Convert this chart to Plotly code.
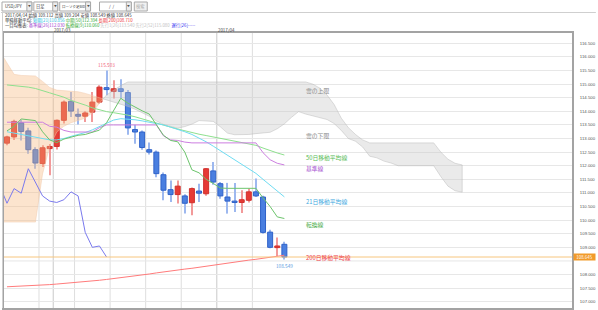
import plotly.graph_objects as go
import pandas as pd

# ---------------- data ----------------
dates = ["2017-02-20","2017-02-21","2017-02-22","2017-02-23","2017-02-24",
         "2017-02-27","2017-02-28","2017-03-01","2017-03-02","2017-03-03",
         "2017-03-06","2017-03-07","2017-03-08","2017-03-09","2017-03-10",
         "2017-03-13","2017-03-14","2017-03-15","2017-03-16","2017-03-17",
         "2017-03-20","2017-03-21","2017-03-22","2017-03-23","2017-03-24",
         "2017-03-27","2017-03-28","2017-03-29","2017-03-30","2017-03-31",
         "2017-04-03","2017-04-04","2017-04-05","2017-04-06","2017-04-07",
         "2017-04-10","2017-04-11","2017-04-12","2017-04-13","2017-04-14"]
opens = [112.83,113.06,113.58,113.28,112.59,112.08,112.63,112.71,113.67,114.37,
         113.89,113.82,113.97,114.34,114.87,114.73,114.83,114.69,113.33,113.24,
         112.59,112.50,111.67,111.12,110.94,110.89,110.64,111.07,110.97,111.81,
         111.34,110.85,110.70,110.65,110.73,111.04,110.85,109.56,108.99,109.112]
highs = [113.10,113.69,113.70,113.40,112.68,112.75,112.80,113.70,114.40,114.71,
         114.10,114.00,114.71,114.96,115.503,115.14,115.18,114.78,113.51,113.30,
         112.85,112.56,111.75,111.46,111.46,110.95,111.20,111.34,111.92,112.14,
         111.40,111.37,111.37,111.10,111.16,111.53,110.90,109.65,109.36,109.204]
lows = [112.75,112.95,112.93,112.44,111.89,111.95,111.65,112.60,113.55,113.79,
        113.52,113.61,113.61,114.28,114.59,114.47,114.47,113.14,112.81,112.59,
        112.41,111.58,110.73,110.67,110.61,110.24,110.18,110.67,110.90,111.30,
        110.79,110.24,110.30,110.26,110.65,110.85,109.50,108.97,108.67,108.549]
closes = [113.06,113.63,113.26,112.59,112.10,112.66,112.71,113.67,114.34,114.01,
          113.82,113.94,114.34,114.89,114.80,114.83,114.73,113.39,113.24,112.67,
          112.50,111.71,111.10,110.94,111.25,110.62,111.16,110.99,111.89,111.40,
          110.89,110.70,110.65,110.75,111.04,110.89,109.55,109.00,109.05,108.645]

ma21 = [113.25,113.20,113.15,113.10,113.05,113.00,112.95,112.95,113.00,113.08,
        113.15,113.22,113.32,113.45,113.58,113.68,113.73,113.72,113.69,113.65,
        113.60,113.55,113.50,113.42,113.34,113.25,113.15,113.03,112.88,112.72,
        112.55,112.38,112.22,112.06,111.90,111.72,111.50,111.28,111.07,110.856]
ma50 = [114.97,114.95,114.92,114.89,114.84,114.77,114.68,114.60,114.52,114.40,
        114.32,114.23,114.13,114.05,113.99,113.95,113.91,113.86,113.80,113.72,
        113.64,113.57,113.50,113.42,113.35,113.28,113.22,113.16,113.11,113.06,
        113.01,112.96,112.91,112.86,112.80,112.75,112.65,112.55,112.47,112.394]
ma200 = [107.55,107.56,107.57,107.59,107.60,107.62,107.63,107.65,107.67,107.69,
         107.71,107.73,107.76,107.79,107.82,107.85,107.88,107.91,107.95,107.98,
         108.02,108.06,108.10,108.13,108.17,108.20,108.23,108.27,108.30,108.34,
         108.38,108.41,108.45,108.49,108.53,108.56,108.60,108.64,108.67,108.71]
tenkan = [113.28,113.45,113.72,113.70,113.66,113.25,112.95,112.85,112.98,113.05,
          113.12,113.15,113.22,113.31,113.58,114.05,114.48,114.30,114.15,114.02,
          113.90,113.52,113.12,112.93,112.88,112.50,111.85,111.74,111.50,111.35,
          111.18,111.17,111.17,111.17,111.17,111.17,110.82,110.50,110.12,110.06]
kijun = [113.60,113.60,113.60,113.60,113.60,113.60,113.45,113.42,113.30,113.24,
         113.24,113.24,113.24,113.40,113.50,113.50,113.50,113.50,113.50,113.50,
         113.50,113.50,113.10,112.95,112.93,112.87,112.84,112.84,112.84,112.84,
         112.84,112.84,112.84,112.84,112.84,112.84,112.48,112.22,112.09,112.03]

# leading spans, plotted from slot -1 to slot 64 (26 days ahead)
span_a = [116.20,115.80,115.36,115.32,115.32,115.30,115.10,114.88,114.78,114.76,
          114.74,114.72,114.66,114.58,114.50,114.42,114.35,114.25,114.18,114.08,
          113.95,113.82,113.65,113.52,113.45,113.38,113.44,113.53,113.66,113.65,
          113.63,113.43,113.20,113.14,113.14,113.15,113.18,113.20,113.23,113.36,
          113.54,113.78,113.99,113.90,113.83,113.76,113.70,113.55,113.30,113.00,
          112.90,112.69,112.35,112.29,112.17,112.10,112.00,112.00,112.00,112.00,
          112.00,112.00,111.60,111.25,111.08,111.03]
span_b = [109.93,109.93,109.93,109.93,109.93,109.93,111.70,112.70,113.24,113.45,
          113.58,113.67,113.75,113.95,114.30,114.60,114.78,114.95,115.08,115.08,
          115.08,115.08,115.08,115.08,115.08,115.08,115.08,115.08,115.08,115.08,
          115.08,115.08,115.08,115.08,115.08,115.08,115.08,115.08,115.08,115.08,
          115.08,115.08,115.08,115.08,115.00,114.85,114.60,114.25,113.75,113.40,
          113.15,112.95,112.84,112.84,112.84,112.84,112.84,112.84,112.84,112.84,
          112.84,112.84,112.50,112.24,112.09,112.03]

# ---------------- derived ----------------
n = len(dates)
idx = list(range(n))
span_x = list(range(-1, len(span_a) - 1))
lag = 25
chikou_x = [i - lag for i in idx if i - lag >= -1]
chikou_y = [closes[i] for i in idx if i - lag >= -1]

up = [c >= o for o, c in zip(opens, closes)]
dn = [not u for u in up]
body_base = [min(o, c) for o, c in zip(opens, closes)]
body_h = [abs(c - o) for o, c in zip(opens, closes)]
wick_h = [h - l for h, l in zip(highs, lows)]

def sel(arr, mask):
    return [a for a, m in zip(arr, mask) if m]

fig = go.Figure()
# wicks
fig.add_trace(go.Bar(x=sel(idx, up), base=sel(lows, up), y=sel(wick_h, up), width=0.15,
                     marker=dict(color="#f29a9a", line=dict(width=0)), hoverinfo="skip"))
fig.add_trace(go.Bar(x=sel(idx, dn), base=sel(lows, dn), y=sel(wick_h, dn), width=0.15,
                     marker=dict(color="#9db8ef", line=dict(width=0)), hoverinfo="skip"))
# bodies
fig.add_trace(go.Bar(x=sel(idx, up), base=sel(body_base, up), y=sel(body_h, up), width=0.7,
                     marker=dict(color="#e63b36", line=dict(color="#d0302c", width=1))))
fig.add_trace(go.Bar(x=sel(idx, dn), base=sel(body_base, dn), y=sel(body_h, dn), width=0.7,
                     marker=dict(color="#4a7fe0", line=dict(color="#2f62c8", width=1))))

# cloud split into bullish/bearish polygons
polys = []
cx, ca, cb = [span_x[0]], [span_a[0]], [span_b[0]]
sign = span_a[0] >= span_b[0]
for i in range(1, len(span_x)):
    s = span_a[i] >= span_b[i]
    if s != sign:
        d0 = span_a[i-1] - span_b[i-1]
        d1 = span_a[i] - span_b[i]
        t = d0 / (d0 - d1)
        xc = span_x[i-1] + t * (span_x[i] - span_x[i-1])
        yc = span_a[i-1] + t * (span_a[i] - span_a[i-1])
        cx.append(xc); ca.append(yc); cb.append(yc)
        polys.append((sign, cx, ca, cb))
        cx, ca, cb = [xc], [yc], [yc]
        sign = s
    cx.append(span_x[i]); ca.append(span_a[i]); cb.append(span_b[i])
polys.append((sign, cx, ca, cb))
for bull, px, pa, pb in polys:
    fig.add_trace(go.Scatter(
        x=px + px[::-1], y=pa + pb[::-1], mode="lines", fill="toself",
        fillcolor="rgba(247,183,125,0.38)" if bull else "rgba(200,200,200,0.38)",
        line=dict(color="rgba(240,200,170,0.6)" if bull else "rgba(180,180,180,0.55)", width=0.8),
        hoverinfo="skip"))

def line(x, y, color, w=1):
    fig.add_trace(go.Scatter(x=x, y=y, mode="lines", line=dict(color=color, width=w),
                             hoverinfo="skip"))

line(idx, ma200, "#ff7b7b")
line(idx, ma50, "#8ee08e")
line(idx, ma21, "#6fdcf2")
line(idx, kijun, "#cc7ee0")
line(idx, tenkan, "#6cc46c")
line(chikou_x, chikou_y, "#7a7aee")

# ---------------- layout helpers (pixel -> paper) ----------------
L, R, T, B, W, H = 3, 24, 33, 2, 598, 310
PW, PH = W - L - R, H - T - B
def X(px): return (px - L) / PW
def Y(py): return (H - B - py) / PH

shapes = []
annotations = []

# vertical grid lines at week / month boundaries
d = pd.to_datetime(dates)
for i in range(1, n):
    new_month = d[i].month != d[i-1].month
    new_week = d[i].weekday() < d[i-1].weekday()
    if new_month or new_week:
        shapes.append(dict(type="line", xref="x", yref="paper", x0=i-0.5, x1=i-0.5, y0=0, y1=1,
                           line=dict(color="#c9c9c9" if new_month else "#dedede", width=1),
                           layer="below"))
    if new_month:
        annotations.append(dict(xref="x", yref="paper", x=i-0.5, y=Y(30.2), xanchor="left",
                                yanchor="middle", text=d[i].strftime("%Y/%m"), showarrow=False,
                                font=dict(size=4.4, color="#444"), borderpad=0))

last = closes[-1]
# current price line + tag
shapes.append(dict(type="line", xref="paper", yref="y", x0=0, x1=1, y0=last, y1=last,
                   line=dict(color="#f7c67e", width=1)))
annotations.append(dict(xref="paper", yref="y", x=1, y=last, xanchor="left", yanchor="middle",
                        xshift=1, text=f"{last:.3f}", showarrow=False, bgcolor="#f29b2b",
                        font=dict(size=4.4, color="white"), width=21, height=6, borderpad=0))

# y tick labels (the one hidden under the price tag is left out, as in the source)
y_lo, y_hi = 106.77, 116.88
grid_vals = [107.0 + 0.5 * k for k in range(20)]
label_vals = [v for v in grid_vals if abs(v - last) > 0.2]

# high / low marks
hi_i = max(idx, key=lambda i: highs[i])
annotations.append(dict(x=hi_i, y=highs[hi_i], text=f"{highs[hi_i]:.3f}", showarrow=False,
                        yanchor="bottom", yshift=0, font=dict(size=4.7, color="#f0607a")))
lo_i = min(idx, key=lambda i: lows[i])
annotations.append(dict(x=lo_i, y=lows[lo_i], text=f"{lows[lo_i]:.3f}", showarrow=False,
                        yanchor="top", yshift=-1, font=dict(size=4.7, color="#5a9be0")))

# line labels right of the last candle
lab_x = n - 1 + 2.95
for txt_, py, col in [("雲の上限", 90, "#8a8a8a"), ("雲の下限", 135, "#8a8a8a"),
                      ("50日移動平均線", 157.3, "#55bb55"), ("基準線", 168.3, "#a64fd0"),
                      ("21日移動平均線", 201.7, "#3aa8e0"), ("転換線", 224, "#44aa44"),
                      ("200日移動平均線", 257.3, "#ee3a48")]:
    annotations.append(dict(xref="x", yref="paper", x=lab_x, y=Y(py), xanchor="left",
                            yanchor="middle", text=txt_, showarrow=False,
                            font=dict(size=5.8, color=col), borderpad=0))

# header controls
def box(x0, x1, fill="white"):
    shapes.append(dict(type="rect", xref="paper", yref="paper", x0=X(x0), x1=X(x1),
                       y0=Y(11), y1=Y(2), line=dict(color="#a9a9a9", width=1), fillcolor=fill))
def txt(px, py, s, size=4.3, color="#333", anchor="left"):
    annotations.append(dict(xref="paper", yref="paper", x=X(px), y=Y(py), text=s,
                            xanchor=anchor, yanchor="middle", showarrow=False,
                            font=dict(size=size, color=color), borderpad=0))
for x0, x1, label, fs in [(1, 31, "USD/JPY", 4.2), (33, 57, "日足", 4.2),
                          (59, 90, "ローソク足BID", 3.5)]:
    box(x0, x1)
    box(x1 - 5, x1, "#ececec")
    txt(x0 + 1.5, 6.5, label, size=fs)
    txt(x1 - 2.5, 6.5, "▼", size=2.8, color="#555", anchor="center")
box(99, 131)
txt(112, 6.5, "/  /", anchor="center")
box(126, 131, "#ececec")
txt(128.5, 6.5, "▼", size=2.8, color="#555", anchor="center")
box(134, 147, "#f1f1f1")
txt(140.5, 6.5, "検索", color="#aaa", anchor="center")

shapes.append(dict(type="line", xref="paper", yref="paper", x0=X(0), x1=X(598),
                   y0=Y(12.5), y1=Y(12.5), line=dict(color="#cfcfcf", width=1)))
shapes.append(dict(type="line", xref="paper", yref="paper", x0=X(1.5), x1=X(1.5),
                   y0=Y(12.5), y1=Y(308), line=dict(color="#cfcfcf", width=1)))

txt(3, 15, f"2017/04/14 始値 {opens[-1]:.3f} 高値 {highs[-1]:.3f} 安値 {lows[-1]:.3f} 終値 {closes[-1]:.3f}")
txt(3, 20.2, "単純移動平均: "
    f"<span style='color:#22bde0'>短期[21]{ma21[-1]:.3f}</span> "
    f"<span style='color:#33aa33'>中期[50]{ma50[-1]:.3f}</span> "
    f"<span style='color:#ee3333'>長期[200]{ma200[-1]:.3f}</span>")
txt(3, 25.3, "一目均衡表: "
    f"<span style='color:#a040d0'>基準線[26]{kijun[-1]:.3f}</span> "
    f"<span style='color:#33aa33'>転換線[9]{tenkan[-1]:.3f}</span> "
    f"<span style='color:#c0c0c0'>先行1[26]{span_a[n]:.3f}</span> "
    f"<span style='color:#c0c0c0'>先行2[52]{span_b[n]:.3f}</span>  "
    "<span style='color:#2a2af0'>遅行[26]-----</span>")

fig.update_layout(
    width=W, height=H, margin=dict(l=L, r=R, t=T, b=B),
    paper_bgcolor="white", plot_bgcolor="white",
    barmode="overlay", showlegend=False,
    font=dict(family="Noto Sans CJK JP, Noto Sans, sans-serif", color="#333"),
    shapes=shapes, annotations=annotations,
    xaxis=dict(range=[-0.42, 79.44], showgrid=False, zeroline=False, showticklabels=False,
               ticks="", showline=True, mirror=True, linecolor="#a3a3a3", linewidth=2),
    yaxis=dict(range=[y_lo, y_hi], side="right", tickmode="array",
               tickvals=label_vals, ticktext=[f"{v:.3f}" for v in label_vals],
               showgrid=True, gridcolor="#e7e7e7", gridwidth=1, zeroline=False,
               showline=True, mirror=True, linecolor="#a3a3a3", linewidth=2, ticks="",
               ticklabelstandoff=5,
               tickfont=dict(size=4.3, color="#555", family="Liberation Sans, Arial")),
)
# grid line under the tag (kept although its label is hidden)
for v in grid_vals:
    if v not in label_vals:
        shapes.append(dict(type="line", xref="paper", yref="y", x0=0, x1=1, y0=v, y1=v,
                           line=dict(color="#e7e7e7", width=1), layer="below"))
fig.update_layout(shapes=shapes)
fig.write_html("out.html")
